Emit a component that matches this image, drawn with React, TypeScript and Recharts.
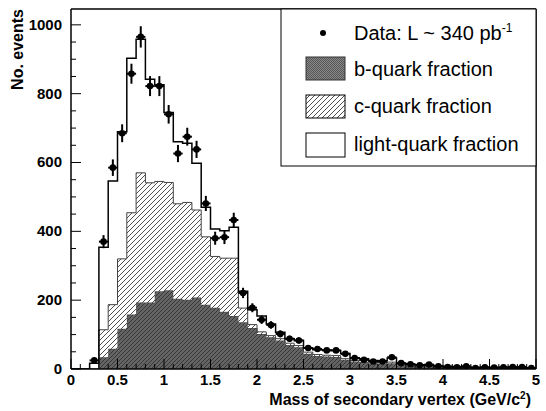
import {
  ComposedChart,
  Area,
  Scatter,
  ErrorBar,
  XAxis,
  YAxis,
  ReferenceLine,
} from 'recharts';

// histogram binning (low edges), 0.1 GeV/c^2 wide
const BIN_EDGES = [
  0, 0.1, 0.2, 0.3, 0.4, 0.5, 0.6, 0.7, 0.8, 0.9,
  1, 1.1, 1.2, 1.3, 1.4, 1.5, 1.6, 1.7, 1.8, 1.9,
  2, 2.1, 2.2, 2.3, 2.4, 2.5, 2.6, 2.7, 2.8, 2.9,
  3, 3.1, 3.2, 3.3, 3.4, 3.5, 3.6, 3.7, 3.8, 3.9,
  4, 4.1, 4.2, 4.3, 4.4, 4.5, 4.6, 4.7, 4.8, 4.9,
];
const X_END = 5;
const BIN_WIDTH = 0.1;

const B_QUARK = [
  0, 0, 0, 34, 59, 117, 158, 193, 193, 226,
  229, 204, 201, 208, 187, 178, 166, 154, 136, 119,
  102, 92, 83, 70, 63, 44, 38, 36, 35, 27,
  22, 20, 17, 16, 17, 11, 9, 8, 7, 6,
  5, 4, 4, 3, 3, 3, 2, 2, 2, 2,
];
const C_QUARK = [
  0, 0, 0, 80, 128, 203, 296, 377, 348, 319,
  313, 276, 283, 254, 197, 149, 156, 168, 41, 10,
  6, 5, 5, 5, 5, 5, 4, 4, 4, 3,
  3, 4, 3, 3, 3, 2, 2, 1, 1, 1,
  1, 1, 1, 1, 1, 0, 1, 1, 0, 0,
];
const LIGHT_QUARK = [
  0, 0, 17, 240, 359, 369, 449, 388, 301, 281,
  203, 180, 172, 136, 86, 80, 80, 90, 49, 43,
  46, 34, 19, 13, 15, 12, 14, 15, 15, 15,
  8, 6, 5, 5, 12, 4, 3, 3, 3, 2,
  2, 2, 1, 1, 1, 1, 1, 0, 1, 1,
];
const DATA = [
  0, 0, 25, 370, 585, 685, 858, 965, 822, 822,
  740, 626, 675, 638, 481, 380, 383, 433, 221, 178,
  143, 128, 102, 88, 83, 61, 58, 54, 54, 44,
  32, 27, 22, 22, 34, 17, 14, 11, 13, 8,
  6, 5, 8, 3, 5, 4, 5, 6, 6, 3,
];
const DATA_ERR = [
  0, 0, 5, 19, 24, 26, 29, 31, 29, 29,
  27, 25, 26, 25, 22, 19, 20, 21, 15, 13,
  12, 11, 10, 9, 9, 8, 8, 7, 7, 7,
  6, 5, 5, 5, 6, 4, 4, 3, 4, 3,
  2, 2, 3, 2, 2, 2, 2, 2, 2, 2,
];

const Y_MAX = 1046;
const Y_MAJOR = [0, 200, 400, 600, 800, 1000];
const Y_TICKS = Array.from({ length: 21 }, (_, i) => i * 50);
const X_MAJOR = [0, 0.5, 1, 1.5, 2, 2.5, 3, 3.5, 4, 4.5, 5];
const X_TICKS = [...BIN_EDGES, X_END];

const FONT = '"Liberation Sans", Arial, Helvetica, sans-serif';

const last = BIN_EDGES.length - 1;
const histData = [
  ...BIN_EDGES.map((x, i) => ({
    x,
    b: B_QUARK[i],
    c: C_QUARK[i],
    light: LIGHT_QUARK[i],
  })),
  { x: X_END, b: B_QUARK[last], c: C_QUARK[last], light: LIGHT_QUARK[last] },
];

const points = BIN_EDGES.map((x, i) => ({
  x: x + BIN_WIDTH / 2,
  y: DATA[i],
  yErr: DATA_ERR[i],
  xErr: BIN_WIDTH / 2,
})).filter((p) => p.y > 0);

const isXMajor = (v: number) => X_MAJOR.some((m) => Math.abs(m - v) < 1e-6);

const renderXTick = (props: any) => {
  const { x, y, payload } = props;
  const major = isXMajor(payload.value);
  return (
    <g key={`xt-${payload.value}`}>
      <line x1={x} y1={y} x2={x} y2={y - (major ? 10 : 5)} stroke="#000" strokeWidth={1} />
      {major && (
        <text
          x={x}
          y={y + 16}
          textAnchor="middle"
          fontFamily={FONT}
          fontWeight="bold"
          fontSize={15}
          fill="#000"
        >
          {String(Math.round(payload.value * 10) / 10)}
        </text>
      )}
    </g>
  );
};

const renderYTick = (props: any) => {
  const { x, y, payload } = props;
  const major = Y_MAJOR.includes(payload.value);
  return (
    <g key={`yt-${payload.value}`}>
      <line x1={x} y1={y} x2={x + (major ? 10 : 5)} y2={y} stroke="#000" strokeWidth={1} />
      {major && (
        <text
          x={x - 9}
          y={y + 5}
          textAnchor="end"
          fontFamily={FONT}
          fontWeight="bold"
          fontSize={15}
          fill="#000"
        >
          {payload.value}
        </text>
      )}
    </g>
  );
};

function Patterns({ prefix }: { prefix: string }) {
  return (
    <defs>
      <pattern id={`${prefix}b`} patternUnits="userSpaceOnUse" width={4} height={4}>
        <rect width={4} height={4} fill="#646464" />
        <path d="M-1,1 l2,-2 M0,4 l4,-4 M3,5 l2,-2" stroke="#383838" strokeWidth={1} />
      </pattern>
      <pattern id={`${prefix}c`} patternUnits="userSpaceOnUse" width={5} height={5}>
        <rect width={5} height={5} fill="#fff" />
        <path d="M-1,1 l2,-2 M0,5 l5,-5 M4,6 l2,-2" stroke="#222" strokeWidth={0.8} />
      </pattern>
      <pattern id={`${prefix}bl`} patternUnits="userSpaceOnUse" width={2} height={2}>
        <rect width={2} height={2} fill="#8a8a8a" />
        <rect width={1} height={1} fill="#555" />
        <rect x={1} y={1} width={1} height={1} fill="#555" />
      </pattern>
    </defs>
  );
}

export default function App() {
  return (
    <div style={{ position: 'absolute', left: 0, top: 0, width: 546, height: 411, background: '#fff' }}>
      <ComposedChart
        width={546}
        height={411}
        data={histData}
        margin={{ top: 9, right: 10, bottom: 0, left: 0 }}
      >
        <Patterns prefix="h" />
        <XAxis
          dataKey="x"
          type="number"
          domain={[0, X_END]}
          ticks={X_TICKS}
          interval={0}
          height={42}
          tickSize={0}
          tickMargin={0}
          tickLine={false}
          tick={renderXTick}
          axisLine={{ stroke: '#000', strokeWidth: 1.5 }}
          allowDataOverflow
        />
        <YAxis
          type="number"
          domain={[0, Y_MAX]}
          ticks={Y_TICKS}
          interval={0}
          width={71}
          tickSize={0}
          tickMargin={0}
          tickLine={false}
          tick={renderYTick}
          axisLine={{ stroke: '#000', strokeWidth: 1.5 }}
          allowDataOverflow
        />
        <Area
          dataKey="b"
          stackId="mc"
          type="stepAfter"
          fill="url(#hb)"
          fillOpacity={1}
          stroke="#444"
          strokeWidth={1}
          dot={false}
          activeDot={false}
          isAnimationActive={false}
        />
        <Area
          dataKey="c"
          stackId="mc"
          type="stepAfter"
          fill="url(#hc)"
          fillOpacity={1}
          stroke="#444"
          strokeWidth={1}
          dot={false}
          activeDot={false}
          isAnimationActive={false}
        />
        <Area
          dataKey="light"
          stackId="mc"
          type="stepAfter"
          fill="#fff"
          fillOpacity={0}
          stroke="#000"
          strokeWidth={1.5}
          dot={false}
          activeDot={false}
          isAnimationActive={false}
        />
        <Scatter
          data={points}
          dataKey="y"
          fill="#000"
          isAnimationActive={false}
          shape={(p: any) => <circle cx={p.cx} cy={p.cy} r={3.3} fill="#000" />}
        >
          <ErrorBar dataKey="yErr" direction="y" width={0} stroke="#000" strokeWidth={2} />
          <ErrorBar dataKey="xErr" direction="x" width={0} stroke="#000" strokeWidth={2} />
        </Scatter>
        <ReferenceLine y={Y_MAX} stroke="#000" strokeWidth={1.5} />
        <ReferenceLine x={X_END} stroke="#000" strokeWidth={1.5} />
      </ComposedChart>

      <svg
        width={546}
        height={411}
        style={{ position: 'absolute', left: 0, top: 0, pointerEvents: 'none' }}
        fontFamily={FONT}
      >
        <Patterns prefix="l" />
        <rect x={281} y={9} width={255} height={157} fill="#fff" stroke="#000" strokeWidth={1} />
        <circle cx={323} cy={33} r={3} fill="#000" />
        <text x={354} y={40} fontSize={20} fill="#000">
          Data: L ~ 340 pb
          <tspan dy={-8} fontSize={12}>-1</tspan>
        </text>
        <rect x={306} y={57} width={39} height={23} fill="url(#lbl)" stroke="#333" strokeWidth={1} />
        <text x={354} y={76} fontSize={20} fill="#000">b-quark fraction</text>
        <rect x={306} y={95} width={39} height={23} fill="url(#lc)" stroke="#000" strokeWidth={1} />
        <text x={354} y={113} fontSize={20} fill="#000">c-quark fraction</text>
        <rect x={306} y={133} width={39} height={24} fill="#fff" stroke="#000" strokeWidth={1} />
        <text x={354} y={151} fontSize={20} fill="#000">light-quark fraction</text>

        <text
          transform="translate(23, 9) rotate(-90)"
          textAnchor="end"
          fontSize={16}
          fontWeight="bold"
          fill="#000"
        >
          No. events
        </text>
        <text x={531} y={405} textAnchor="end" fontSize={16} fontWeight="bold" fill="#000">
          Mass of secondary vertex (GeV/c
          <tspan dy={-6} fontSize={10}>2</tspan>
          <tspan dy={6}>)</tspan>
        </text>
      </svg>
    </div>
  );
}
